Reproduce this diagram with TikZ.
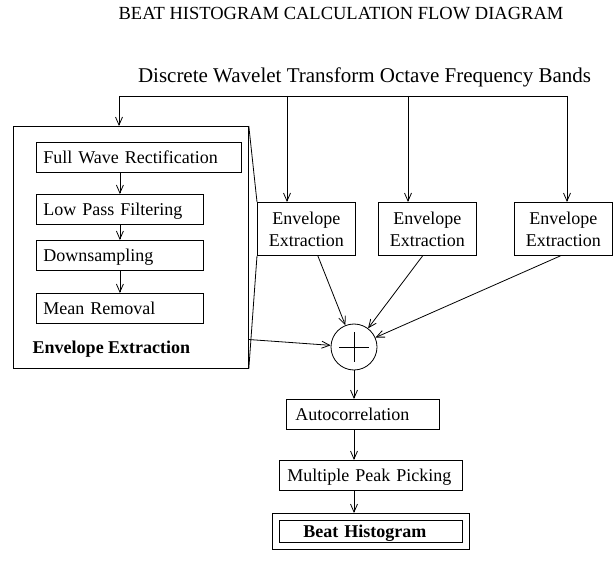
\documentclass[tikz,border=0pt]{standalone}
\usepackage{fontspec}
\setmainfont{Liberation Serif}
\usetikzlibrary{arrows.meta, positioning, calc, fit}

\begin{document}
\begin{tikzpicture}[x=1pt, y=-1pt, line width=0.8pt,
    font=\fontsize{18pt}{22pt}\selectfont,
    box/.style={draw, anchor=north west, align=left, inner xsep=7pt, text height=12.5pt, text depth=0pt, minimum height=30pt},
    envbox/.style={draw, anchor=north west, align=center, minimum width=98pt, minimum height=53pt},
    arr/.style={-{Straight Barb[length=8pt,width=7pt]}}
  ]
        \useasboundingbox (0,0) rectangle (613,561);

        % Titel und Eingang
        \node[anchor=base, font=\fontsize{18.5pt}{22pt}\selectfont] (title) at (341,20) {BEAT HISTOGRAM CALCULATION FLOW DIAGRAM};
        \node[anchor=base, font=\fontsize{21pt}{25pt}\selectfont] (bands) at (364.5,83) {Discrete Wavelet Transform Octave Frequency Bands};

        % grosse Box mit den Teilschritten
        \node[draw, anchor=north west, minimum width=235pt, minimum height=242pt] (envbig) at (13,126) {};
        \node[box, text width=191pt] (fwr) at (36,142) {Full Wave Rectification};
        \node[box, text width=153pt] (lpf) at (36,194) {Low Pass Filtering};
        \node[box, text width=153pt] (ds) at (36,240) {Downsampling};
        \node[box, text width=153pt] (mr) at (36,293) {Mean Removal};
        \node[anchor=base west, font=\fontsize{18pt}{22pt}\selectfont\bfseries] (envlabel) at (29,353) {Envelope Extraction};

        \draw[arr] (fwr.south -| lpf.north) -- (lpf.north);
        \draw[arr] (lpf) -- (ds);
        \draw[arr] (ds) -- (mr);

        % die drei anderen Baender
        \node[envbox] (e1) at (257,202) {Envelope\\Extraction};
        \node[envbox] (e2) at (378,202) {Envelope\\Extraction};
        \node[envbox] (e3) at (514,202) {Envelope\\Extraction};

        % Verteilerleitung
        \coordinate (b0) at (119,96);
        \coordinate (b1) at (287,96);
        \coordinate (b2) at (408,96);
        \coordinate (b3) at (567,96);
        \draw (b0) -- (b3);
        \draw[arr] (b0) -- (b0 |- envbig.north);
        \draw[arr] (b1) -- (b1 |- e1.north);
        \draw[arr] (b2) -- (b2 |- e2.north);
        \draw[arr] (b3) -- (b3 |- e3.north);

        % Lupe: grosse Box = erste kleine Box
        \draw (envbig.north east) -- (e1.north west);
        \draw (e1.south west) -- (envbig.south east);

        % Summierer
        \node[draw, circle, minimum size=46pt, inner sep=0pt] (sum) at (354,347) {};
        \draw (sum.center) ++(-15,0) -- ++(30,0);
        \draw (sum.center) ++(0,-15) -- ++(0,30);

        \draw[arr] (envbig.-38) -- (sum);
        \draw[arr] (e1.-67) -- (sum);
        \draw[arr] (e2.-100) -- (sum);
        \draw[arr] (e3.-96) -- (sum);

        % Nachverarbeitung
        \node[box, inner xsep=9pt, text width=135pt] (auto) at (286,399) {Autocorrelation};
        \node[box, inner xsep=8pt, text width=167pt] (mpp) at (279,460) {Multiple Peak Picking};
        \node[box, inner xsep=24pt, inner ysep=3pt, text width=135pt, minimum height=22pt, font=\fontsize{18pt}{22pt}\selectfont\bfseries] (beat) at (279,520) {Beat Histogram};
        \node[draw, fit=(beat), inner sep=6.6pt] (beatframe) {};

        \draw[arr] (sum.south) -- (sum.south |- auto.north);
        \draw[arr] (sum.south |- auto.south) -- (sum.south |- mpp.north);
        \draw[arr] (sum.south |- mpp.south) -- (sum.south |- beatframe.north);
\end{tikzpicture}
\end{document}
